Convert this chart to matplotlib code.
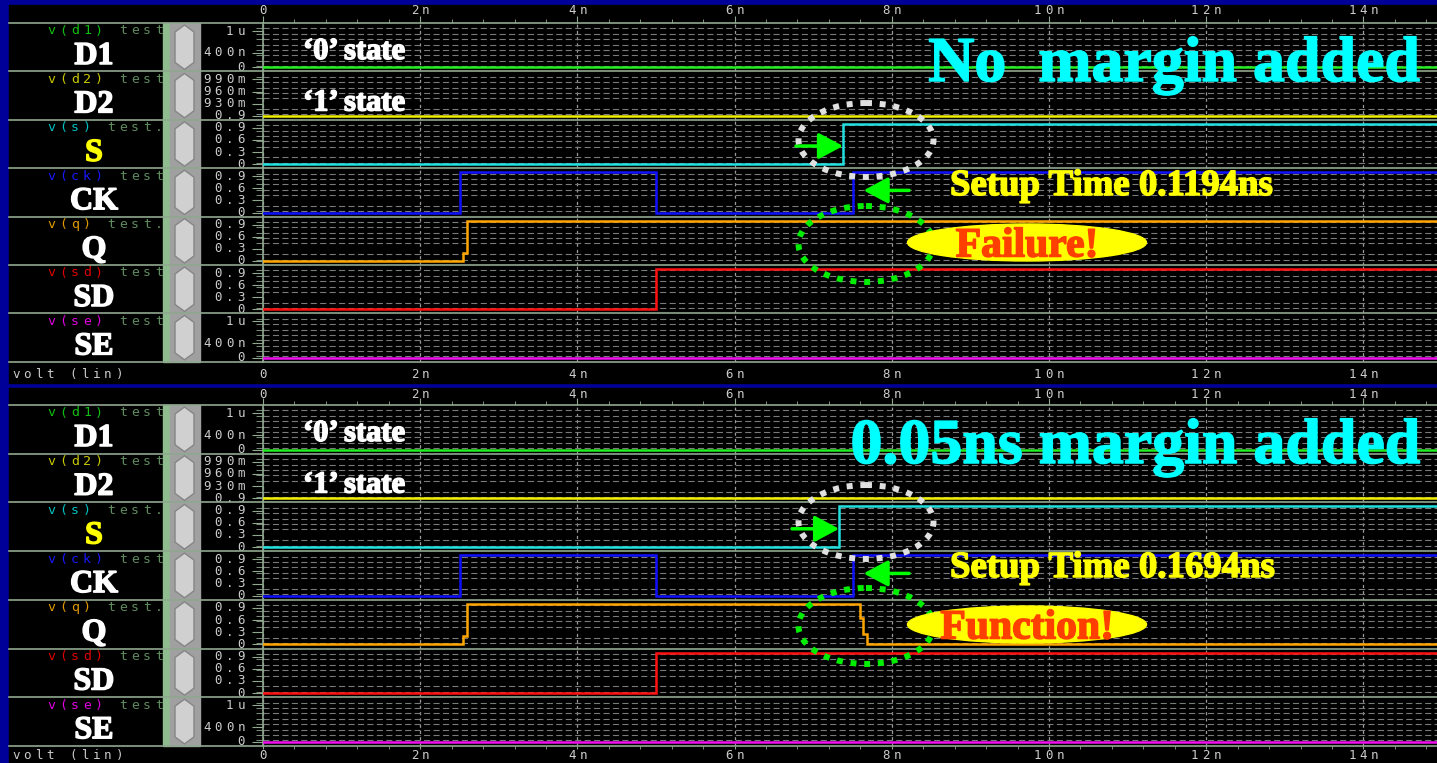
import numpy as np
import matplotlib
matplotlib.use('Agg')
import matplotlib.pyplot as plt
import matplotlib.patheffects as pe
from matplotlib.patches import Rectangle, Ellipse, Polygon

# ---- waveform data (time in ns, levels in V; D1/SE in uV) ----
t_end = 15.0
names = ['D1', 'D2', 'S', 'CK', 'Q', 'SD', 'SE']
nets = ['v(d1)', 'v(d2)', 'v(s)', 'v(ck)', 'v(q)', 'v(sd)', 'v(se)']
tails = [' test', ' test', ' test.', ' test', ' test.', ' test', ' test']
net_colors = ['#10c010', '#c8c800', '#00c0c0', '#1818ff', '#e09a00', '#e00000', '#e000e0']
wave_colors = ['#22ee22', '#f0f000', '#22e0e0', '#1010ff', '#ffa500', '#ff1010', '#f010f0']
name_colors = ['white', 'white', '#ffff00', 'white', 'white', 'white', 'white']

d1_t = [0, t_end]
d1_v = [0, 0]
d2_t = [0, t_end]
d2_v = [0.9, 0.9]
s_t_nomargin = [0, 7.3806, 7.3806, t_end]
s_t_margin = [0, 7.3306, 7.3306, t_end]
s_v = [0, 0, 1, 1]
ck_t = [0, 2.5, 2.5, 5.0, 5.0, 7.5, 7.5, t_end]
ck_v = [0, 0, 1, 1, 0, 0, 1, 1]
q_t_fail = [0, 2.55, 2.55, 2.6, 2.6, t_end]
q_v_fail = [0, 0, 0.2, 0.2, 1, 1]
q_t_ok = [0, 2.55, 2.55, 2.6, 2.6, 7.59, 7.59, 7.63, 7.63, 7.68, 7.68, t_end]
q_v_ok = [0, 0, 0.2, 0.2, 1, 1, 0.65, 0.65, 0.25, 0.25, 0, 0]
sd_t = [0, 5.0, 5.0, t_end]
sd_v = [0, 0, 1, 1]
se_t = [0, t_end]
se_v = [0, 0]

time_ticks = [0, 2, 4, 6, 8, 10, 12, 14]
time_labels = ['0', '2n', '4n', '6n', '8n', '10n', '12n', '14n']
logic_ticks = [0, 0.3, 0.6, 0.9]
logic_labels = ['0', '0.3', '0.6', '0.9']
micro_ticks = [0, 0.4, 1.0]
micro_labels = ['0', '400n', '1u']
d2_ticks = [0.9, 0.93, 0.96, 0.99]
d2_labels = ['0.9', '930m', '960m', '990m']
row_scales = ['micro', 'd2', 'logic', 'logic', 'logic', 'logic', 'micro']
scale_cfg = {
    'micro': ((-0.11, 1.22), micro_ticks, micro_labels),
    'd2': ((0.89, 1.01), d2_ticks, d2_labels),
    'logic': ((-0.1, 1.1), logic_ticks, logic_labels),
}

panels = [
    dict(top=5, rows0=23, pitch=48.4, bottom=383, title='No  margin added',
         s_t=s_t_nomargin, q_t=q_t_fail, q_v=q_v_fail, setup='Setup Time 0.1194ns',
         verdict='Failure!', foot_ticks=False, foot_y=13),
    dict(top=388, rows0=405, pitch=48.7, bottom=763, title='0.05ns margin added',
         s_t=s_t_margin, q_t=q_t_ok, q_v=q_v_ok, setup='Setup Time 0.1694ns',
         verdict='Function!', foot_ticks=True, foot_y=10),
]

W, H = 1437, 763
fig = plt.figure(figsize=(W / 100, H / 100), dpi=100)
fig.patch.set_facecolor('#000099')

sep_col = '#8fa88f'
lab_col = '#cccccc'
serif = 'Liberation Serif'
x_max = (W - 263) / 78.6


def px_axes(x0, y0, x1, y1, z):
    ax = fig.add_axes([x0 / W, 1 - y1 / H, (x1 - x0) / W, (y1 - y0) / H])
    ax.set_zorder(z)
    return ax


bg = px_axes(0, 0, W, H, 0)
bg.set_xlim(0, W)
bg.set_ylim(H, 0)
bg.axis('off')

over = px_axes(0, 0, W, H, 5)
over.set_xlim(0, W)
over.set_ylim(H, 0)
over.axis('off')


def mono(x, y, s, color, ha='left', size=9, pitch=11.5, z=3):
    # wide fixed-pitch look of the simulator font
    if ha == 'right':
        x = x - len(s) * pitch
    elif ha == 'center':
        x = x - len(s) * pitch / 2
    for i, ch in enumerate(s):
        if ch != ' ':
            bg.text(x + (i + 0.5) * pitch, y, ch, color=color, fontsize=size,
                    family='DejaVu Sans Mono', ha='center', va='center', zorder=z)


def big(ax, x, y, s, color, size, ha='left', z=3):
    ax.text(x, y, s, color=color, fontsize=size, family=serif, weight='bold',
            ha=ha, va='baseline', zorder=z,
            path_effects=[pe.withStroke(linewidth=1.1, foreground=color)])


def px_y(ax, v):
    return H - ax.transData.transform((0, v))[1]


def px_x(ax, t):
    return ax.transData.transform((t, 0))[0]


for p in panels:
    r0s = [p['rows0'] + i * p['pitch'] for i in range(8)]
    rows_end = r0s[-1]
    bg.add_patch(Rectangle((9, p['top']), W - 9, p['bottom'] - p['top'], color='black', zorder=0))
    bg.add_patch(Rectangle((163, p['rows0']), 7, rows_end - p['rows0'], color='#8fbc8f', zorder=4))
    bg.add_patch(Rectangle((170, p['rows0']), 30, rows_end - p['rows0'], color='#a0a0a0', zorder=4))
    for y in r0s:
        bg.plot([9, W], [y, y], color=sep_col, lw=1.2, zorder=5)

    # time axis ticks in header
    hx = px_axes(263, p['rows0'] - 8, W, p['rows0'], 1)
    hx.set_xlim(0, x_max)
    hx.patch.set_alpha(0)
    for sp in hx.spines.values():
        sp.set_visible(False)
    hx.set_yticks([])
    hx.set_xticks(time_ticks)
    hx.set_xticks(np.arange(0, 15, 0.4), minor=True)
    hx.tick_params(axis='x', which='major', direction='in', length=5, color=sep_col, labelbottom=False)
    hx.tick_params(axis='x', which='minor', direction='in', length=3, color=sep_col)
    for t, lab in zip(time_ticks, time_labels):
        mono(px_x(hx, t), p['top'] + 6, lab, lab_col, ha='center')
        mono(px_x(hx, t), rows_end + p['foot_y'], lab, lab_col, ha='center')
    mono(10, rows_end + p['foot_y'], 'volt (lin)', lab_col)

    if p['foot_ticks']:
        fx = px_axes(263, rows_end, W, rows_end + 8, 1)
        fx.set_xlim(0, x_max)
        fx.patch.set_alpha(0)
        for sp in fx.spines.values():
            sp.set_visible(False)
        fx.set_yticks([])
        fx.set_xticks(time_ticks)
        fx.set_xticks(np.arange(0, 15, 0.4), minor=True)
        fx.tick_params(axis='x', which='both', direction='in', bottom=False, top=True,
                       length=2, color=sep_col, labelbottom=False)

    waves = [(d1_t, d1_v), (d2_t, d2_v), (p['s_t'], s_v), (ck_t, ck_v),
             (p['q_t'], p['q_v']), (sd_t, sd_v), (se_t, se_v)]
    row_axes = []
    for i in range(7):
        r0, r1 = r0s[i], r0s[i + 1]
        (ylo, yhi), ticks, labels = scale_cfg[row_scales[i]]
        ax = px_axes(263, r0, W, r1, 1)
        ax.patch.set_alpha(0)
        ax.set_xlim(0, x_max)
        ax.set_ylim(ylo, yhi)
        for sp in ['top', 'right', 'bottom']:
            ax.spines[sp].set_visible(False)
        ax.spines['left'].set_color(sep_col)
        ax.spines['left'].set_linewidth(1.2)
        ax.set_xticks(time_ticks)
        ax.set_yticks(ticks)
        ax.set_yticks(np.linspace(ylo, yhi, 10)[1:-1], minor=True)
        ax.tick_params(axis='x', length=0, labelbottom=False)
        ax.tick_params(axis='y', which='major', direction='out', length=8, color=sep_col, labelleft=False)
        ax.tick_params(axis='y', which='minor', direction='out', length=5, color=sep_col)
        ax.grid(axis='y', which='minor', color='#7a7a7a', lw=0.8, linestyle=(0, (5.5, 3)))
        ax.grid(axis='x', which='major', color='#9a9a9a', lw=0.9, linestyle=(0, (2.5, 2.5)))
        t, v = waves[i]
        ax.plot(t, v, color=wave_colors[i], lw=1.8, solid_joinstyle='miter', zorder=3)
        row_axes.append(ax)

        for tk, lab in zip(ticks, labels):
            mono(247, px_y(ax, tk), lab, lab_col, ha='right')
        mono(45, r0 + 8, nets[i], net_colors[i], pitch=12, size=9.5)
        mono(45 + len(nets[i]) * 12, r0 + 8, tails[i], '#5f8a5f', pitch=12, size=9.5)
        big(bg, 94, r0 + 41, names[i], name_colors[i], 23, ha='center')
        bg.add_patch(Polygon([(184.5, r0 + 2), (194, r0 + 9), (194, r1 - 9), (184.5, r1 - 2),
                              (175, r1 - 9), (175, r0 + 9)], closed=True, fc='#d0d0d0',
                             ec='#858585', lw=1, zorder=4.5))

    # arrows at the S and CK edges
    s_ax, ck_ax = row_axes[2], row_axes[3]
    s_rise = p['s_t'][1]
    ck_rise = ck_t[5]
    arrow = dict(arrowstyle='-|>,head_length=0.75,head_width=0.4', mutation_scale=20,
                 lw=2.5, color='#00ff00', shrinkA=0, shrinkB=0)
    s_ax.annotate('', xy=(s_rise, 0.45), xytext=(s_rise - 0.6, 0.45), arrowprops=arrow)
    ck_ax.annotate('', xy=(ck_rise + 0.14, 0.55), xytext=(ck_rise + 0.72, 0.55), arrowprops=arrow)

    y0 = p['rows0']
    over.add_patch(Ellipse((866, y0 + 117), 135, 74, fill=False, ec='#e0e0e0', lw=4.3,
                           linestyle=(0, (1.0, 1.3))))
    over.add_patch(Ellipse((866, y0 + 221), 135, 76, fill=False, ec='#00ee00', lw=4.3,
                           linestyle=(0, (1.0, 1.3))))
    over.add_patch(Ellipse((1027, y0 + 219.5), 239, 37, color='#ffff00'))
    big(over, 1027, y0 + 233.5, p['verdict'], '#ff3f00', 30, ha='center')
    big(over, 950, y0 + 172, p['setup'], '#ffff00', 26.5)
    big(over, 1420, y0 + 58, p['title'], '#00ffff', 46, ha='right')
    big(over, 303, y0 + 36, '\u20180\u2019 state', 'white', 22)
    big(over, 303, y0 + 87.5, '\u20181\u2019 state', 'white', 22)

fig.savefig('out.png', dpi=100, facecolor=fig.get_facecolor())
